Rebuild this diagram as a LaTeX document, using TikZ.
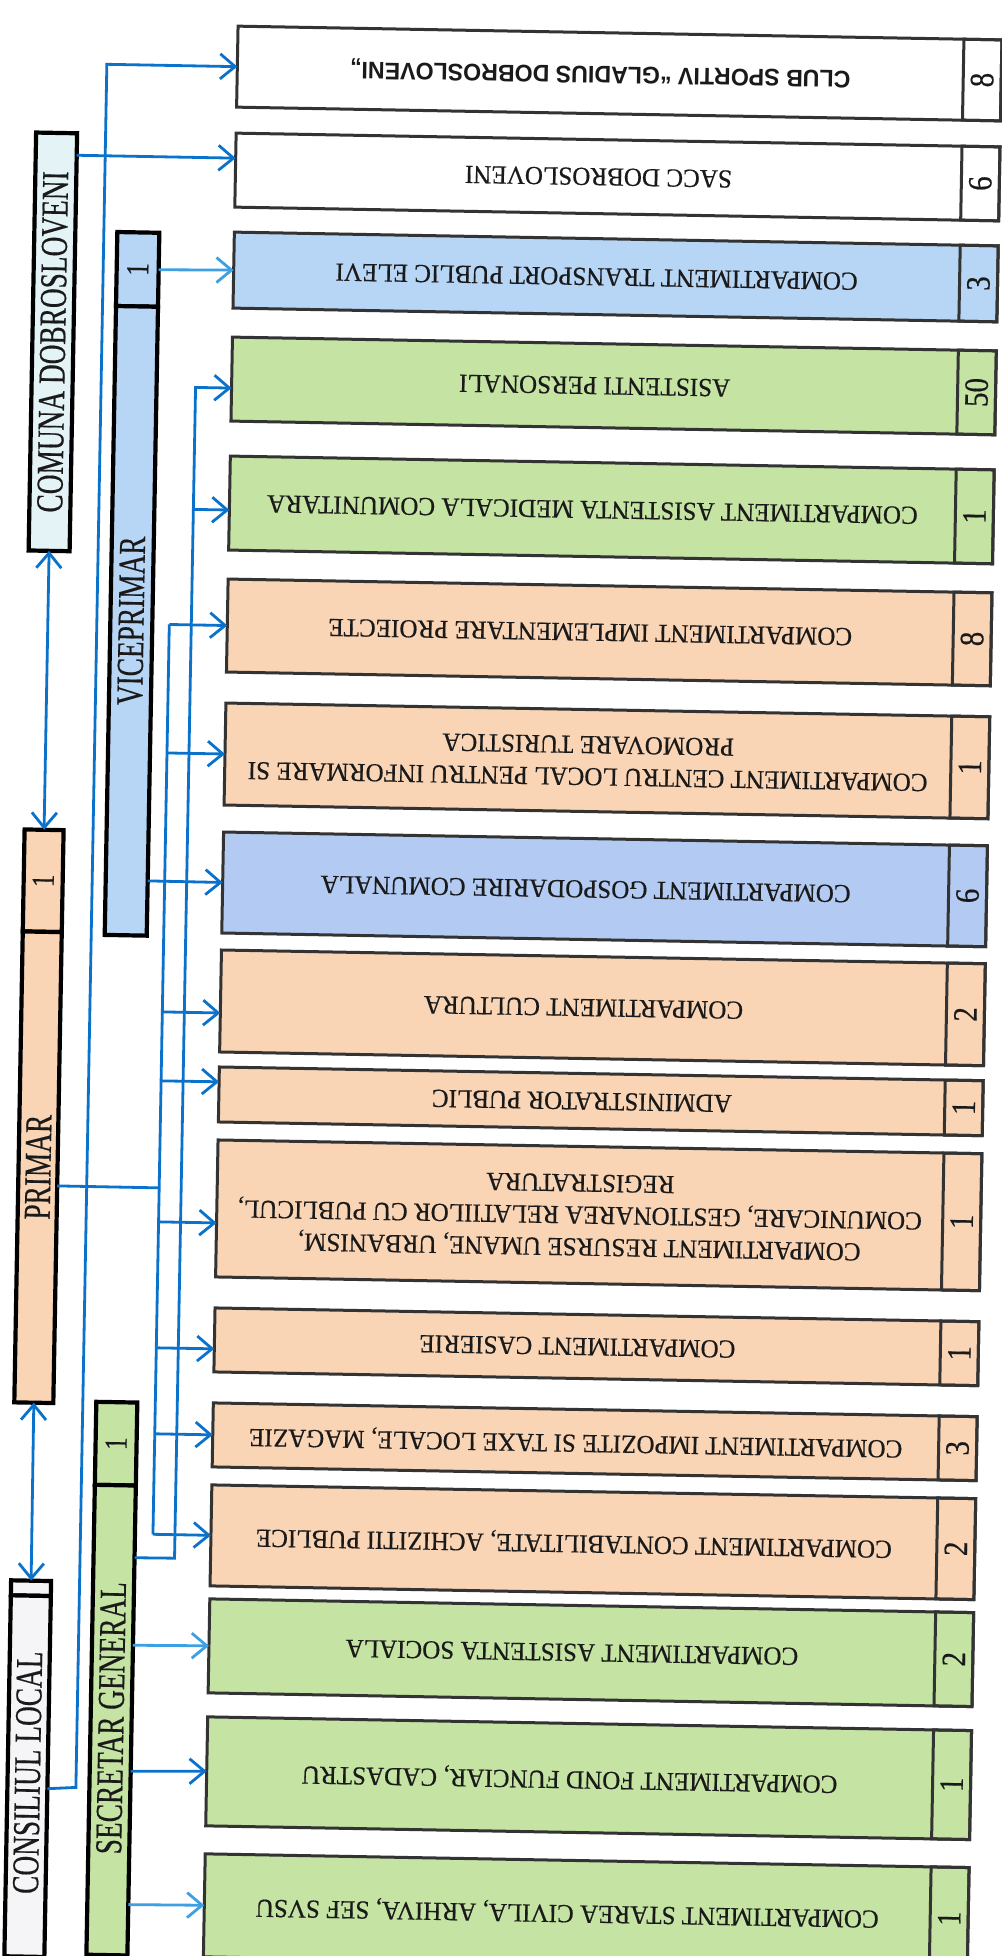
\documentclass[tikz,border=0pt]{standalone}
\usepackage{fontspec}
\setmainfont{Liberation Serif}[FakeBold=0.5]
\newfontfamily\clubsans{Liberation Sans}
\usetikzlibrary{arrows.meta,calc}
\definecolor{peach}{HTML}{F9D5B6}
\definecolor{grn}{HTML}{C5E4A3}
\definecolor{blu}{HTML}{B7D5F5}
\definecolor{blu2}{HTML}{B3CBF2}
\definecolor{lnk}{HTML}{0B72CC}
\definecolor{lnk2}{HTML}{3E9FE2}
\definecolor{bord}{HTML}{333333}
\definecolor{cyanw}{HTML}{E4F4F6}
\definecolor{consw}{HTML}{F5F5F7}
\definecolor{txt}{HTML}{1A1A1A}
\tikzset{
 rbox/.style={draw=bord, line width=3pt, minimum width=764pt, inner sep=0pt, outer sep=0pt},
 rcell/.style={draw=bord, line width=3pt, minimum width=38pt, inner sep=0pt, outer sep=0pt},
 rtext/.style={rotate=180, xscale=0.965, align=center, text=txt, font=\fontsize{26}{32}\selectfont, inner sep=0pt},
 rnum/.style={rotate=90, xscale=0.85, text=txt, font=\fontsize{34}{34}\selectfont, inner sep=0pt},
 lbox/.style={draw=black, line width=4.2pt, inner sep=0pt, outer sep=0pt},
 ltext/.style={rotate=90, xscale=0.72, text=txt, font=\fontsize{38}{40}\selectfont, inner sep=0pt},
 lnum/.style={rotate=90, xscale=0.8, text=txt, font=\fontsize{32}{32}\selectfont, inner sep=0pt},
 link/.style={draw=lnk, line width=2.8pt},
 arr/.style={link, -{Straight Barb[length=15pt, width=25pt]}},
 darr/.style={link, {Straight Barb[length=15pt, width=25pt]}-{Straight Barb[length=15pt, width=25pt]}},
}
% right-hand department box: name, top, bottom, fill, number, text
\newcommand\orgR[6]{%
 \node[rbox, fill=#4, minimum height={(#3-#2)*1pt}] (#1) at (603,{(#2+#3)/2}) {};
 \node[rcell, minimum height={(#3-#2)*1pt}] (#1n) at (966,{(#2+#3)/2}) {};
 \node[rnum] (#1d) at (#1n.center) {#5};
 \node[rtext] (#1t) at (584,{(#2+#3)/2}) {#6};
}
% left column box: name, x centre, width, top, bottom, fill
\newcommand\orgL[6]{%
 \node[lbox, fill=#6, minimum width=#3pt, minimum height={(#5-#4)*1pt}] (#1) at (#2,{(#4+#5)/2}) {};
}
\begin{document}
\begin{tikzpicture}[x=1pt,y=-1pt]
\useasboundingbox (0,0) rectangle (1001,1956);
\fill[white] (0,0) rectangle (1001,1956);
\begin{scope}[rotate around={-1.03:(500,978)}, transform shape]
% ---------- left column ----------
\orgL{comuna}{41.5}{41}{141}{559}{cyanw}
\node[ltext] (comunat) at (comuna.center) {COMUNA DOBROSLOVENI};
\orgL{primarcell}{41.5}{39}{838}{940}{peach}
\node[lnum] (primarn) at (primarcell.center) {1};
\orgL{primar}{41.5}{39}{940}{1411}{peach}
\node[ltext] (primart) at (primar.center) {PRIMAR};
\orgL{conscell}{42}{40}{1589}{1604}{consw}
\orgL{cons}{42}{40}{1604}{1965}{consw}
\node[ltext] (const) at (42,1781) {CONSILIUL LOCAL};
\orgL{vicecell}{125}{42}{239}{313}{blu}
\node[lnum] (vicen) at (vicecell.center) {1};
\orgL{vice}{125}{42}{313}{942}{blu}
\node[ltext] (vicet) at (vice.center) {VICEPRIMAR};
\orgL{secrcell}{124.5}{41}{1409}{1492}{grn}
\node[lnum] (secrn) at (secrcell.center) {1};
\orgL{secr}{124.5}{41}{1492}{1962}{grn}
\node[ltext] (secrt) at (124.5,1725) {SECRETAR GENERAL};
% ---------- right column ----------
\orgR{club}{31}{112}{white}{8}{{\clubsans\bfseries\fontsize{24}{28}\selectfont CLUB SPORTIV “GLADIUS DOBROSLOVENI„}}
\orgR{sacc}{138}{212}{white}{6}{SACC DOBROSLOVENI}
\orgR{transp}{237}{313}{blu}{3}{COMPARTIMENT TRANSPORT PUBLIC ELEVI}
\orgR{asist}{342}{426}{grn}{50}{ASISTENTI PERSONALI}
\orgR{medic}{461}{555}{grn}{1}{COMPARTIMENT ASISTENTA MEDICALA COMUNITARA}
\orgR{impl}{584}{677}{peach}{8}{COMPARTIMENT IMPLEMENTARE PROIECTE}
\orgR{centru}{708}{810}{peach}{1}{COMPARTIMENT CENTRU LOCAL PENTRU INFORMARE SI\\PROMOVARE TURISTICA}
\orgR{gosp}{837}{938}{blu2}{6}{COMPARTIMENT GOSPODARIRE COMUNALA}
\orgR{cultura}{955}{1057}{peach}{2}{COMPARTIMENT CULTURA}
\orgR{admin}{1072}{1127}{peach}{1}{ADMINISTRATOR PUBLIC}
\orgR{resurse}{1145}{1282}{peach}{1}{COMPARTIMENT RESURSE UMANE, URBANISM,\\COMUNICARE, GESTIONAREA RELATIILOR CU PUBLICUL,\\REGISTRATURA}
\orgR{casierie}{1313}{1377}{peach}{1}{COMPARTIMENT CASIERIE}
\orgR{impoz}{1408}{1472}{peach}{3}{COMPARTIMENT IMPOZITE SI TAXE LOCALE, MAGAZIE}
\orgR{contab}{1490}{1591}{peach}{2}{COMPARTIMENT CONTABILITATE, ACHIZITII PUBLICE}
\orgR{social}{1604}{1698}{grn}{2}{COMPARTIMENT ASISTENTA SOCIALA}
\orgR{fond}{1722}{1831}{grn}{1}{COMPARTIMENT FOND FUNCIAR, CADASTRU}
\orgR{starea}{1859}{1962}{grn}{1}{COMPARTIMENT STAREA CIVILA, ARHIVA, SEF SVSU}
% ---------- connectors ----------
\draw[darr] (comuna.south) -- (primarcell.north);
\draw[darr] (primar.south) -- (conscell.north);
% consiliul -> club
\coordinate (cl1) at (90.5,1795);
\coordinate (cl2) at (90.5,71.5);
\draw[arr] ($(cons.north east)!0.534!(cons.south east)$) -- (cl1) -- (cl2) -- (club.west);
% comuna -> sacc
\draw[arr] ($(comuna.north east)!0.0526!(comuna.south east)$) -- ($(sacc.north west)!0.338!(sacc.south west)$);
% viceprimar
\draw[arr, draw=lnk2] (vicecell.east) -- (transp.west);
\draw[arr] ($(vice.north east)!0.913!(vice.south east)$) -- (gosp.west);
% primar bus
\coordinate (pa) at (163,1194);
\coordinate (paimpl) at (163,630.5);
\coordinate (pacentru) at (163,759);
\coordinate (pacult) at (163,1018);
\coordinate (paadmin) at (163,1087);
\coordinate (paresurse) at (163,1228);
\coordinate (pacas) at (163,1354);
\coordinate (paimpoz) at (163,1440);
\coordinate (pacontab) at (163,1540.5);
\draw[link] ($(primar.north east)!0.539!(primar.south east)$) -- (pa);
\draw[link] (paimpl) -- (pacontab);
\draw[arr] (paimpl) -- (impl.west);
\draw[arr] (pacentru) -- (centru.west);
\draw[arr] (pacult) -- ($(cultura.north west)!0.618!(cultura.south west)$);
\draw[arr] (paadmin) -- ($(admin.north west)!0.27!(admin.south west)$);
\draw[arr] (paresurse) -- ($(resurse.north west)!0.606!(resurse.south west)$);
\draw[arr] (pacas) -- ($(casierie.north west)!0.64!(casierie.south west)$);
\draw[arr] (paimpoz) -- (impoz.west);
\draw[arr] (pacontab) -- (contab.west);
% secretar bus
\coordinate (sb) at (185,1564);
\coordinate (sbtop) at (185,393);
\coordinate (sbmed) at (185,515);
\draw[arr] ($(secr.north east)!0.1538!(secr.south east)$) -- (sb) -- (sbtop) -- ($(asist.north west)!0.607!(asist.south west)$);
\draw[arr] (sbmed) -- ($(medic.north west)!0.574!(medic.south west)$);
\draw[arr, draw=lnk2] ($(secr.north east)!0.34!(secr.south east)$) -- (social.west);
\draw[arr] ($(secr.north east)!0.608!(secr.south east)$) -- (fond.west);
\draw[arr, draw=lnk2] ($(secr.north east)!0.892!(secr.south east)$) -- (starea.west);
\end{scope}
\end{tikzpicture}
\end{document}
